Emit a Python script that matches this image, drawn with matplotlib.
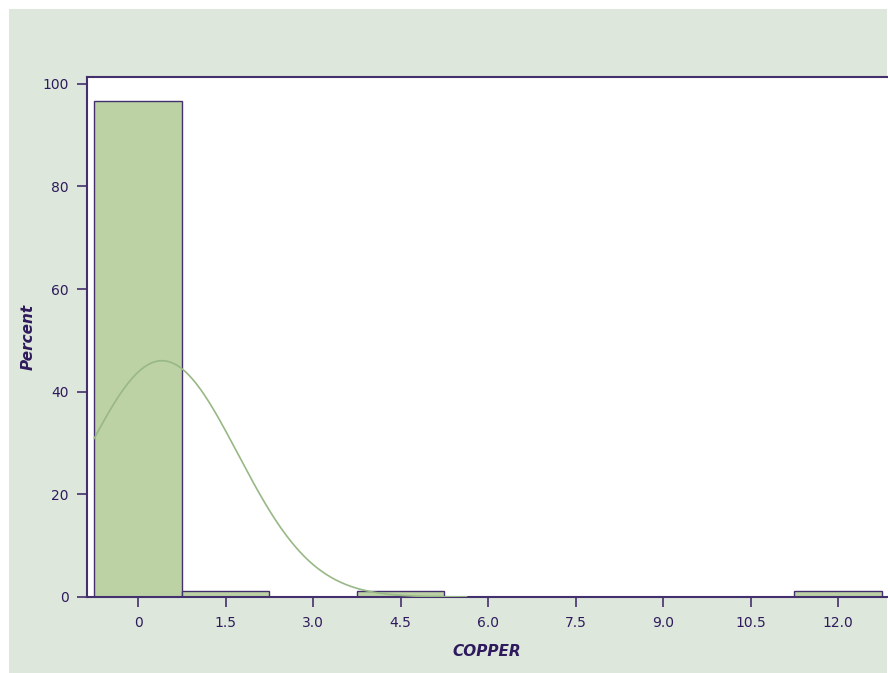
import matplotlib
matplotlib.use("Agg")
import matplotlib.pyplot as plt
from matplotlib.patches import Rectangle
import numpy as np

# histogram of COPPER (percent per bin), bin width 1.5
midpoints = [0, 1.5, 3.0, 4.5, 6.0, 7.5, 9.0, 10.5, 12.0]
percent = [96.67, 1.11, 0, 1.11, 0, 0, 0, 0, 1.11]
tick_labels = ["0", "1.5", "3.0", "4.5", "6.0", "7.5", "9.0", "10.5", "12.0"]
bin_width = 1.5

# fitted normal curve
curve_mu = 0.41
curve_sigma = 1.30
curve_range = (-0.75, 5.63)

TXT = "#2e1a5c"
EDGE = "#45306e"
PANEL = "#dde7db"
BARFILL = "#bcd2a5"
CURVE = "#98b886"

fig = plt.figure(figsize=(8.88, 6.73), dpi=100)
fig.patch.set_facecolor("white")
fig.patches.append(Rectangle((9/888, 0), 878/888, 1 - 9/673, transform=fig.transFigure,
                             facecolor=PANEL, edgecolor="none", zorder=-10))

ax = fig.add_axes([87/888, 1 - 597/673, 800/888, 520/673])
ax.set_facecolor("white")

ax.bar(midpoints, percent, width=bin_width, color=BARFILL, edgecolor=EDGE, linewidth=1.0, zorder=2)

xs = np.linspace(curve_range[0], curve_range[1], 300)
ys = 100 * bin_width / (curve_sigma * np.sqrt(2 * np.pi)) * np.exp(-0.5 * ((xs - curve_mu) / curve_sigma) ** 2)
ax.plot(xs, ys, color=CURVE, linewidth=1.2, zorder=3)

ax.set_xlim(-0.875, 12.84)
ax.set_ylim(0, 101.3)
ax.set_xticks(midpoints)
ax.set_xticklabels(tick_labels)
ax.set_yticks([0, 20, 40, 60, 80, 100])

for s in ["left", "top", "bottom"]:
    ax.spines[s].set_color(EDGE)
    ax.spines[s].set_linewidth(1.5)
ax.spines["right"].set_visible(False)

ax.tick_params(axis="both", colors=EDGE, labelcolor=TXT, labelsize=10, length=7, width=1.2, direction="out")
ax.tick_params(axis="x", pad=7)
ax.tick_params(axis="y", pad=6)

ax.set_xlabel("COPPER", color=TXT, fontsize=11, fontweight="bold", style="italic")
ax.set_ylabel("Percent", color=TXT, fontsize=11, fontweight="bold", style="italic")
ax.xaxis.set_label_coords(0.5, -0.09)
ax.yaxis.set_label_coords(-0.064, 0.5)

fig.savefig("out.png", dpi=100)
